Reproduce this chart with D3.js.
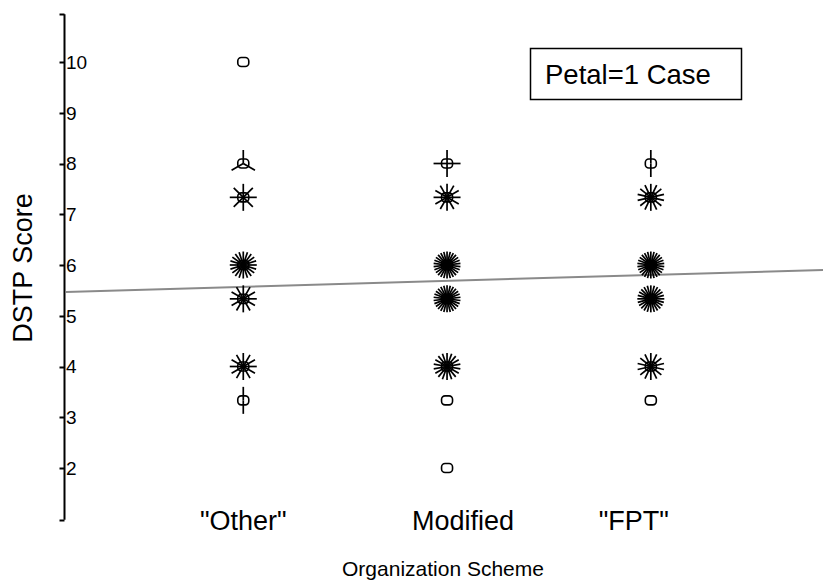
<!DOCTYPE html>
<html>
<head>
<meta charset="utf-8">
<script src="https://cdn.jsdelivr.net/npm/d3@7"></script>
<style>
  html, body { margin: 0; padding: 0; background: #fff; }
  svg { display: block; font-family: "Liberation Sans", Arial, sans-serif; }
</style>
</head>
<body>
<svg id="chart" width="823" height="582"></svg>
<script>
// Sunflower plot: each flower sits at (scheme, score); petal count = number of cases
const categories = ['"Other"', "Modified", '"FPT"'];
const yTicks = [2, 3, 4, 5, 6, 7, 8, 9, 10];

const otherScores    = [10, 8, 7.333, 6, 5.333, 4, 3.333];
const otherCounts    = [1, 3, 8, 20, 12, 12, 2];
const modifiedScores = [8, 7.333, 6, 5.333, 4, 3.333, 2];
const modifiedCounts = [4, 12, 26, 26, 18, 1, 1];
const fptScores      = [8, 7.333, 6, 5.333, 4, 3.333];
const fptCounts      = [2, 14, 26, 24, 14, 1];

// Linear fit of score on scheme index
const fitIntercept = 5.453;
const fitSlope = 0.117;

const seriesScores = [otherScores, modifiedScores, fptScores];
const seriesCounts = [otherCounts, modifiedCounts, fptCounts];

const flowers = [];
seriesScores.forEach((scores, i) => {
  scores.forEach((s, j) => flowers.push({ cat: i + 1, score: s, n: seriesCounts[i][j] }));
});

const svg = d3.select("#chart");
const x = d3.scaleLinear().domain([0.13, 3.845]).range([66, 823]);
const y = d3.scaleLinear().domain([2, 10]).range([468, 62]);
const yExtent = [0.98, 10.94];

// Fit line (drawn beneath the flowers)
const xs = x.domain();
svg.append("line")
  .attr("x1", x(xs[0])).attr("y1", y(fitIntercept + fitSlope * xs[0]))
  .attr("x2", x(xs[1])).attr("y2", y(fitIntercept + fitSlope * xs[1]))
  .attr("stroke", "#8a8a8a").attr("stroke-width", 2);

// Y axis: outward ticks on the left, labels sitting just right of the line
const axisX = 64.5;
const axis = svg.append("g").attr("stroke", "#000").attr("stroke-width", 2);
axis.append("line")
  .attr("x1", axisX).attr("x2", axisX)
  .attr("y1", y(yExtent[1])).attr("y2", y(yExtent[0]));
[yExtent[0], yExtent[1]].concat(yTicks).forEach(v => {
  axis.append("line")
    .attr("x1", axisX - 5).attr("x2", axisX)
    .attr("y1", Math.round(y(v)) + 0.5).attr("y2", Math.round(y(v)) + 0.5);
});
svg.append("g").selectAll("text").data(yTicks).join("text")
  .attr("x", axisX + 1.5).attr("y", d => y(d))
  .attr("dy", "0.36em")
  .attr("font-size", 19)
  .attr("fill", "#000")
  .text(d => d);

// Category labels (slightly nudged from the flower columns)
const labelNudge = [0, 16, -17];
svg.append("g").selectAll("text").data(categories).join("text")
  .attr("x", (d, i) => x(i + 1) + labelNudge[i]).attr("y", 530)
  .attr("text-anchor", "middle")
  .attr("font-size", 27)
  .attr("fill", "#000")
  .text(d => d);

// Axis titles
svg.append("text")
  .attr("x", 443).attr("y", 576)
  .attr("text-anchor", "middle").attr("font-size", 21)
  .text("Organization Scheme");
svg.append("text")
  .attr("transform", "translate(32,268) rotate(-90)")
  .attr("text-anchor", "middle").attr("font-size", 27)
  .text("DSTP Score");

// Flowers
const petalLen = 13.5;
const g = svg.append("g");
flowers.forEach(f => {
  const cx = x(f.cat), cy = y(f.score);
  const fl = g.append("g").attr("transform", `translate(${cx},${cy})`);
  if (f.n > 1) {
    for (let k = 0; k < f.n; k++) {
      const a = -Math.PI / 2 + (2 * Math.PI * k) / f.n;
      fl.append("line")
        .attr("x1", 0).attr("y1", 0)
        .attr("x2", petalLen * Math.cos(a)).attr("y2", petalLen * Math.sin(a))
        .attr("stroke", "#000").attr("stroke-width", 1.7);
    }
  }
  fl.append("rect")
    .attr("x", -5.5).attr("y", -4.5).attr("width", 11).attr("height", 9)
    .attr("rx", 3.5).attr("ry", 3.5)
    .attr("fill", "#fff").attr("fill-opacity", f.n > 1 ? 0 : 1)
    .attr("stroke", "#000").attr("stroke-width", 1.6);
});

// Legend box
svg.append("rect")
  .attr("x", 530.5).attr("y", 48.5).attr("width", 211).attr("height", 51)
  .attr("fill", "#fff").attr("stroke", "#000").attr("stroke-width", 1.5);
svg.append("text")
  .attr("x", 545).attr("y", 84).attr("font-size", 27.5)
  .text("Petal=1 Case");
</script>
</body>
</html>
